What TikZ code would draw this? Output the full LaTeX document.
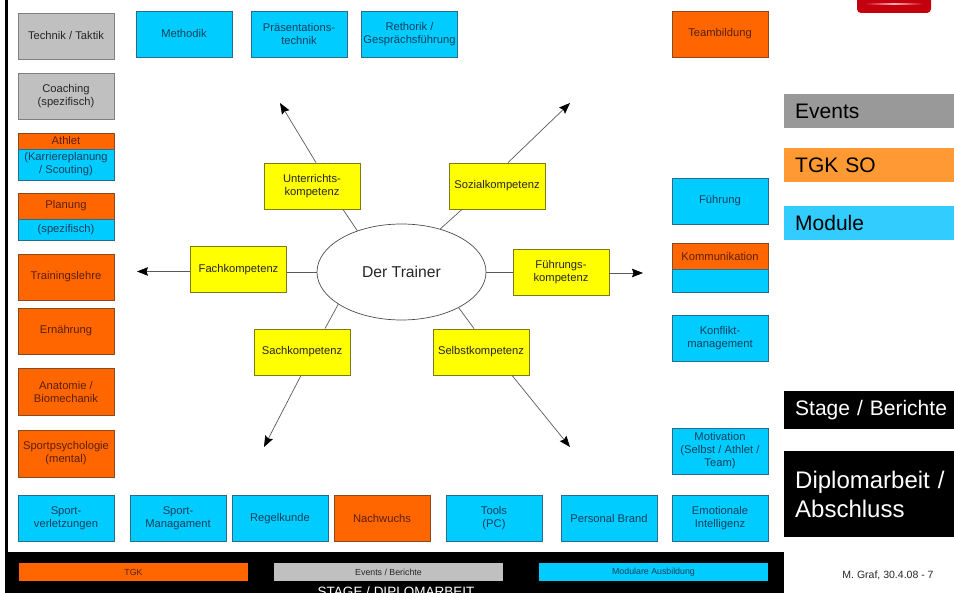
\documentclass[tikz,border=0pt]{standalone}
\usepackage{fontspec}
\setmainfont{Liberation Sans}
\usetikzlibrary{arrows.meta,shapes.geometric}
\definecolor{cblue}{HTML}{00CCFF}
\definecolor{corange}{HTML}{FF6600}
\definecolor{cgrey}{HTML}{C0C0C0}
\definecolor{cyel}{HTML}{FFFF00}
\definecolor{tblue}{HTML}{10405E}
\definecolor{tor}{HTML}{5A2008}
\definecolor{bblue}{HTML}{2A6A8A}
\definecolor{bor}{HTML}{8A4A20}
\definecolor{byel}{HTML}{7E7A18}
\definecolor{lorange}{HTML}{FF9933}
\definecolor{lblue}{HTML}{33CCFF}
\definecolor{lgrey}{HTML}{999999}
\definecolor{logored}{HTML}{C4000F}
\tikzset{
  x=1pt,y=-1pt,
  base/.style={rectangle,inner sep=0pt,align=center,line width=0.8pt,font=\fontsize{11.2}{13}\selectfont,minimum width=96pt,minimum height=46pt},
  blue/.style={base,fill=cblue,draw=bblue,text=tblue},
  oran/.style={base,fill=corange,draw=bor,text=tor},
  grey/.style={base,fill=cgrey,draw=black!50,text=black!85},
  yel/.style={base,fill=cyel,draw=byel,text=black!85},
  stub/.style={draw=black!65,line width=0.7pt},
  arr/.style={stub,-{Stealth[length=11pt,width=8.5pt,inset=1.5pt,color=black]}},
  legend/.style={rectangle,inner sep=0pt,minimum width=170pt,anchor=north west,text width=148pt,align=left,font=\fontsize{21}{25}\selectfont},
  strip/.style={rectangle,inner sep=0pt,minimum width=229pt,minimum height=18pt,font=\fontsize{8.8}{10}\selectfont},
}
\begin{document}
\begin{tikzpicture}
\useasboundingbox (0,0) rectangle (954,593);
\clip (0,0) rectangle (954,593);
% frame
\fill[black] (5,0) rectangle (8,552);
\node[rectangle,fill=black,inner sep=0pt,minimum width=779pt,minimum height=41pt,anchor=north west] (bar) at (5,552) {};
\node[strip,fill=corange,text=tor] (tgk) at (133.5,572) {TGK};
\node[strip,fill=cgrey,text=black!85] (evb) at (388.5,572) {Events / Berichte};
\node[strip,fill=cblue,text=tblue] (mod) at (653.5,572) {Modulare Ausbildung};
\node[text=white,font=\fontsize{13.5}{15}\selectfont,inner sep=0pt] (stage) at (396,592) {STAGE / DIPLOMARBEIT};
% logo
\fill[rounded corners=4pt,logored] (857,-8) rectangle (931,13);
\shade[left color=logored,right color=logored,middle color=red!30!white] (865,3.2) rectangle (923,4.8);
% top
\node[blue] (methodik) at (184,34) {Methodik};
\node[blue] (praes) at (299,34) {Präsentations-\\technik};
\node[blue] (reth) at (409.5,34) {Rethorik /\\Gesprächsführung};
\node[oran] (team) at (720,34) {Teambildung};
% left
\node[grey] (technik) at (66,36) {Technik / Taktik};
\node[grey] (coach) at (66,96) {Coaching\\(spezifisch)};
\node[oran,minimum height=16pt] (athlet) at (66,141) {Athlet};
\node[blue,minimum height=31pt] (athlet2) at (66,164.5) {(Karriereplanung\\/ Scouting)};
\node[oran,minimum height=26pt] (plan) at (66,206) {Planung};
\node[blue,minimum height=21pt] (plan2) at (66,229.5) {(spezifisch)};
\node[oran] (tl) at (66,277) {Trainingslehre};
\node[oran] (ern) at (66,331) {Ernährung};
\node[oran,minimum height=47pt] (anat) at (66,391.5) {Anatomie /\\Biomechanik};
\node[oran,minimum height=47pt] (psy) at (66,453.5) {Sportpsychologie\\(mental)};
% bottom
\node[blue] (sv) at (66,518.5) {Sport-\\verletzungen};
\node[blue] (sm) at (178,518.5) {Sport-\\Managament};
\node[blue] (regel) at (280,518.5) {Regelkunde};
\node[oran] (nach) at (382,518.5) {Nachwuchs};
\node[blue] (tools) at (494,518.5) {Tools\\(PC)};
\node[blue] (brand) at (609,518.5) {Personal Brand};
\node[blue] (emo) at (720,518.5) {Emotionale\\Intelligenz};
% right
\node[blue] (fuehr) at (720,201) {Führung};
\node[oran,minimum height=26pt] (komm) at (720,256) {Kommunikation};
\node[blue,minimum height=23pt] (komm2) at (720,280.5) {};
\node[blue] (konf) at (720,338) {Konflikt-\\management};
\node[blue] (moti) at (720,451) {Motivation\\(Selbst / Athlet /\\Team)};
% legend
\node[legend,fill=lgrey,minimum height=34pt,text=black] (l1) at (784,94) {Events};
\node[legend,fill=lorange,minimum height=34pt,text=black] (l2) at (784,148) {TGK SO};
\node[legend,fill=lblue,minimum height=34pt,text=black] (l3) at (784,206) {Module};
\node[legend,fill=black,minimum height=38pt,text=white] (l4) at (784,391) {\mbox{Stage / Berichte}};
\node[legend,fill=black,minimum height=86pt,text=white,font=\fontsize{24}{29}\selectfont] (l5) at (784,451) {\mbox{Diplomarbeit /}\\Abschluss};
\node[font=\fontsize{10.5}{12}\selectfont,inner sep=0pt,text=black!85] (sig) at (888,575) {M. Graf, 30.4.08 - 7};
% centre
\node[ellipse,draw=black!70,fill=white,line width=0.7pt,minimum width=169pt,minimum height=96pt,inner sep=0pt,font=\fontsize{15.7}{18}\selectfont,text=black!85] (trainer) at (401.5,272) {Der Trainer};
\node[yel] (unt) at (312,186) {Unterrichts-\\kompetenz};
\node[yel] (soz) at (497,186) {Sozialkompetenz};
\node[yel] (fach) at (238.5,269.5) {Fachkompetenz};
\node[yel] (fue) at (561,272.5) {Führungs-\\kompetenz};
\node[yel] (sach) at (302,352) {Sachkompetenz};
\node[yel] (selb) at (481,352) {Selbstkompetenz};
% free ends
\coordinate (eu) at (280,103);
\coordinate (es) at (570,103);
\coordinate (ef) at (137,271.5);
\coordinate (eh) at (643,273);
\coordinate (ea) at (264,447);
\coordinate (el) at (570,447);
% connectors
\draw[stub] (trainer.137) -- ([xshift=31pt]unt.south);
\draw[arr] ([xshift=4pt]unt.north) -- (eu);
\draw[stub] (trainer.48) -- ([xshift=-35pt]soz.south);
\draw[arr] ([xshift=11pt]soz.north) -- (es);
\draw[stub] (trainer.west) -- (trainer.west -| fach.east);
\draw[arr] (ef -| fach.west) -- (ef);
\draw[stub] (trainer.east) -- (trainer.east -| fue.west);
\draw[arr] (eh -| fue.east) -- (eh);
\draw[stub] (trainer.207) -- ([xshift=23pt]sach.north);
\draw[arr] ([xshift=-1pt]sach.south) -- (ea);
\draw[stub] (trainer.328) -- ([xshift=-7pt]selb.north);
\draw[arr] ([xshift=31pt]selb.south) -- (el);
\end{tikzpicture}
\end{document}
